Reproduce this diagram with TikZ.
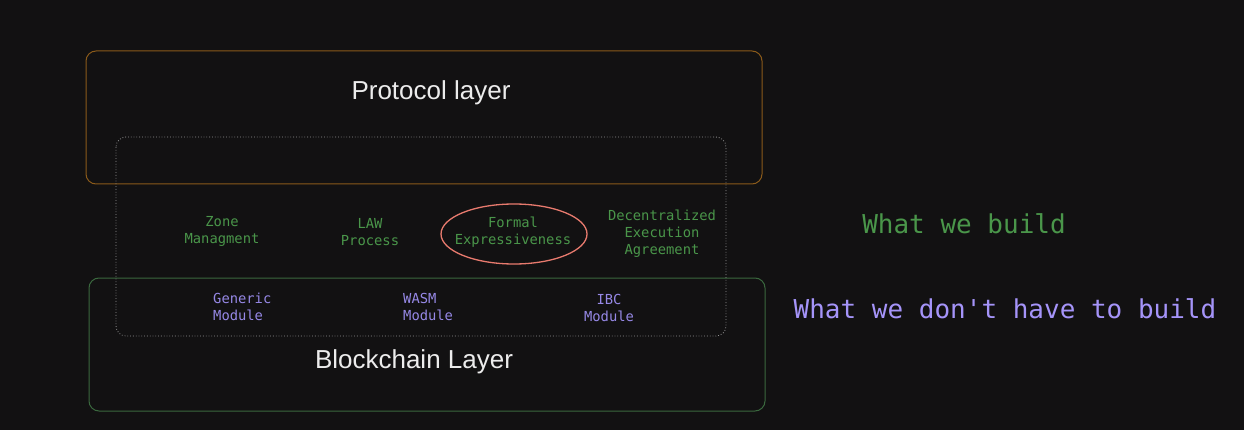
\documentclass[tikz,border=0pt]{standalone}
\usepackage{fontspec}
\setmainfont{Liberation Sans}
\newfontfamily\monof{DejaVu Sans Mono}
\definecolor{bg}{RGB}{18,17,18}
\definecolor{orangeb}{RGB}{138,90,26}
\definecolor{greenb}{RGB}{58,104,62}
\definecolor{greent}{RGB}{74,150,74}
\definecolor{purplet}{RGB}{150,136,230}
\definecolor{purpleb}{RGB}{165,148,249}
\definecolor{salmon}{RGB}{232,122,110}
\definecolor{dotgray}{RGB}{150,150,150}
\definecolor{titlew}{RGB}{236,236,236}
\tikzset{
  layerbox/.style={draw, line width=1pt, rounded corners=10pt},
  title/.style={text=titlew, font=\fontsize{26}{30}\selectfont},
  gtext/.style={text=greent, font=\monof\fontsize{13.8}{17}\selectfont, align=center, inner sep=0pt},
  ptext/.style={text=purplet, font=\monof\fontsize{13.8}{17}\selectfont, inner sep=0pt},
  bigg/.style={text=greent, font=\monof\fontsize{26}{30}\selectfont, inner sep=0pt},
  bigp/.style={text=purpleb, font=\monof\fontsize{26}{30}\selectfont, inner sep=0pt},
}
\begin{document}
\begin{tikzpicture}[x=1pt,y=-1pt]
\fill[bg] (0,0) rectangle (1244,430);
\useasboundingbox (0,0) rectangle (1244,430);
% boxes
\draw[layerbox, orangeb] (86,51) rectangle (762,184);
\draw[layerbox, greenb] (89,278) rectangle (765,411);
\draw[dotgray, dotted, line width=0.8pt, rounded corners=10pt] (116,137) rectangle (726,336);
% titles
\node[title] (prot) at (431,93) {Protocol layer};
\node[title] (chain) at (414,362) {Blockchain Layer};
% green items
\node[gtext] (zone) at (222,231.5) {Zone\\Managment};
\node[gtext] (law) at (370,232.5) {LAW\\Process};
\node[gtext] (formal) at (513,232) {Formal\\Expressiveness};
\node[gtext] (dea) at (662,234) {Decentralized\\Execution\\Agreement};
\draw[salmon, line width=1.3pt] (514,234) ellipse [x radius=73, y radius=30];
% purple items
\node[ptext, align=left, anchor=west] (gen) at (213,306.5) {Generic\\Module};
\node[ptext, align=left, anchor=west] (wasm) at (403,306.5) {WASM\\Module};
\node[ptext, align=center] (ibc) at (609,307.5) {IBC\\Module};
% legend
\node[bigg] (build) at (964,224) {What we build};
\node[bigp] (nobuild) at (1005,309) {What we don't have to build};
\end{tikzpicture}
\end{document}
